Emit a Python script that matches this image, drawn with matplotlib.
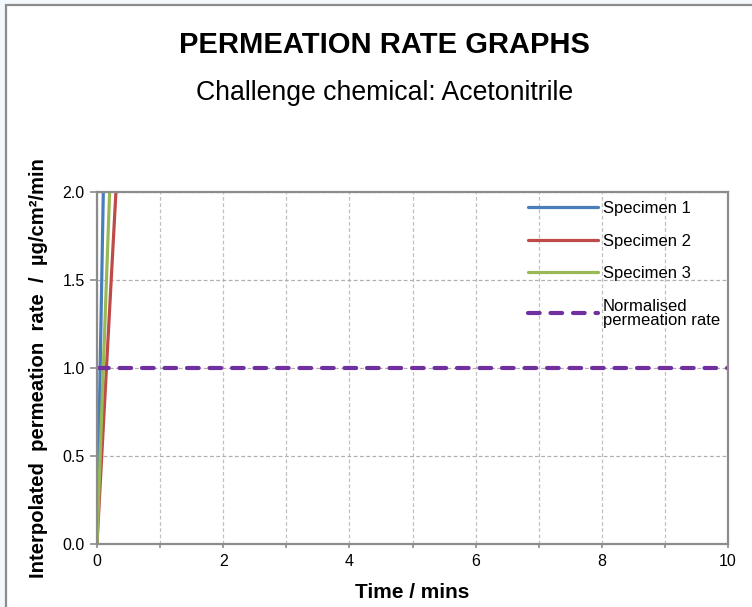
import matplotlib
matplotlib.use("Agg")
import matplotlib.pyplot as plt
from matplotlib.patches import Rectangle
from matplotlib.ticker import MultipleLocator, FormatStrFormatter

plt.rcParams['font.family'] = ['Liberation Sans', 'DejaVu Sans']

# Data
spec1_time = [0.0, 0.1]
spec1_rate = [0.0, 2.0]
spec2_time = [0.0, 0.3]
spec2_rate = [0.0, 2.0]
spec3_time = [0.0, 0.2]
spec3_rate = [0.0, 2.0]
norm_time = [0.0, 10.0]
norm_rate = [1.0, 1.0]
labels = ["Specimen 1", "Specimen 2", "Specimen 3", "Normalised\npermeation rate"]
colors = ["#4a7ebb", "#be4b48", "#98b954", "#7030a0"]

fig = plt.figure(figsize=(7.52, 6.07), dpi=100, facecolor="#f3f8fc")
frame = Rectangle((5.5 / 752, -0.1), 2.0, 1.1 - 4.5 / 607, transform=fig.transFigure,
                  facecolor="white", edgecolor="#8c8c8c", linewidth=1.6, zorder=-10)
fig.patches.append(frame)

fig.text(384 / 752, 1 - 45 / 607, "PERMEATION RATE GRAPHS", ha="center", va="center",
         fontsize=21, fontweight="bold")
fig.text(385 / 752, 1 - 93 / 607, "Challenge chemical: Acetonitrile", ha="center", va="center",
         fontsize=19.2)

ax = fig.add_axes([97 / 752, 1 - 544 / 607, (728 - 97) / 752, (544 - 192) / 607])
ax.set_facecolor("white")

ax.plot(spec1_time, spec1_rate, color=colors[0], lw=2.3, label=labels[0], solid_capstyle="round")
ax.plot(spec2_time, spec2_rate, color=colors[1], lw=2.3, label=labels[1], solid_capstyle="round")
ax.plot(spec3_time, spec3_rate, color=colors[2], lw=2.3, label=labels[2], solid_capstyle="round")
ax.plot(norm_time, norm_rate, color=colors[3], lw=3.0, label=labels[3],
        dashes=(2.8, 2.6), dash_capstyle="round")

ax.set_xlim(0, 10)
ax.set_ylim(0, 2.0)
ax.xaxis.set_major_locator(MultipleLocator(2))
ax.xaxis.set_minor_locator(MultipleLocator(1))
ax.yaxis.set_major_locator(MultipleLocator(0.5))
ax.yaxis.set_major_formatter(FormatStrFormatter("%.1f"))

ax.grid(True, which="both", axis="x", color="#c0c0c0", linestyle=(0, (3, 2)), linewidth=0.9)
ax.grid(True, which="major", axis="y", color="#b0b0b0", linestyle=(0, (3, 2)), linewidth=0.9)
ax.set_axisbelow(True)

for s in ax.spines.values():
    s.set_color("#8c8c8c")
    s.set_linewidth(1.6)

ax.tick_params(axis="x", which="both", direction="out", length=3, width=1.2, color="#8c8c8c",
               labelsize=11.5, pad=4)
ax.tick_params(axis="y", which="major", direction="out", length=5, width=1.2, color="#8c8c8c",
               labelsize=11.5, pad=4)

ax.set_xlabel("Time / mins", fontsize=15, fontweight="bold", labelpad=10)
ax.set_ylabel("Interpolated  permeation  rate  /  µg/cm²/min", fontsize=14.6, fontweight="bold")
ax.yaxis.set_label_coords(-0.077, 0.5)

leg = ax.legend(loc="upper left", bbox_to_anchor=(0.672, 0.993), frameon=False, fontsize=12,
                handlelength=4.2, handletextpad=0.3, labelspacing=1.05, borderaxespad=0.0)
leg.get_texts()[3].set_linespacing(0.95)

fig.savefig("out.png", dpi=100, facecolor=fig.get_facecolor())
